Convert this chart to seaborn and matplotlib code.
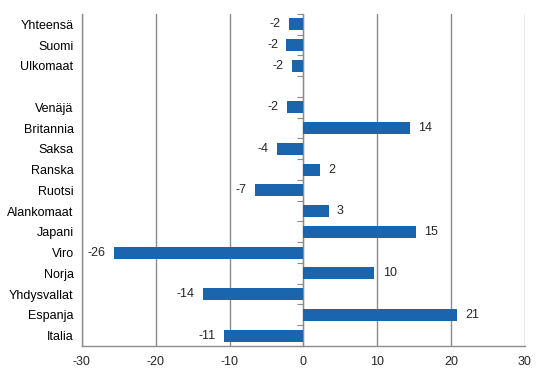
import numpy as np
import pandas as pd
import seaborn as sns
import matplotlib.pyplot as plt

# --- DATA ---
countries = ["Yhteensä", "Suomi", "Ulkomaat", " ", "Venäjä", "Britannia", "Saksa",
             "Ranska", "Ruotsi", "Alankomaat", "Japani", "Viro", "Norja",
             "Yhdysvallat", "Espanja", "Italia"]
change = [-2.0, -2.3, -1.6, np.nan, -2.2, 14.4, -3.6, 2.3, -6.6, 3.4, 15.2,
          -25.7, 9.6, -13.6, 20.8, -10.8]
x_ticks = [-30, -20, -10, 0, 10, 20, 30]

df = pd.DataFrame({"country": countries, "change": change}).dropna()

sns.set_style("white")
plt.rcParams["font.family"] = ["Liberation Sans", "DejaVu Sans"]
plt.rcParams["axes.unicode_minus"] = False

grey = "#8c8c8c"
bar_color = "#1b65ae"

fig = plt.figure(figsize=(5.46, 3.76), dpi=100)
ax = fig.add_axes([0.150, 0.080, 0.8115, 0.883])

sns.barplot(data=df, x="change", y="country", order=countries, orient="h",
            color=bar_color, saturation=1, width=0.58, linewidth=0, ax=ax)

ax.bar_label(ax.containers[0], fmt=lambda v: f"{v:.0f}", padding=6, fontsize=9)

ax.set_xlim(-30, 30)
ax.set_ylim(len(countries) - 0.5, -0.5)
ax.set_xticks(x_ticks)
ax.set_xticklabels([str(t) for t in x_ticks])
ax.xaxis.grid(True, color=grey, linewidth=1)
ax.set_axisbelow(True)
ax.set_xlabel("")
ax.set_ylabel("")

for side in ["top", "right"]:
    ax.spines[side].set_visible(False)
for side in ["left", "bottom"]:
    ax.spines[side].set_color(grey)
    ax.spines[side].set_linewidth(1)

ax.tick_params(axis="y", length=0, labelsize=9, pad=6, colors="black")
ax.tick_params(axis="x", length=4, labelsize=9, color=grey, direction="out")

# category axis at zero with ticks between categories
zero_axis = ax.secondary_yaxis(0.5)
zero_axis.spines["left"].set_color(grey)
zero_axis.set_yticks(np.arange(-0.5, len(countries), 1))
zero_axis.set_yticklabels([])
zero_axis.tick_params(axis="y", length=4, color=grey, direction="out",
                      left=True, right=False)
zero_axis.set_zorder(0)

fig.savefig("out.png", dpi=100)
